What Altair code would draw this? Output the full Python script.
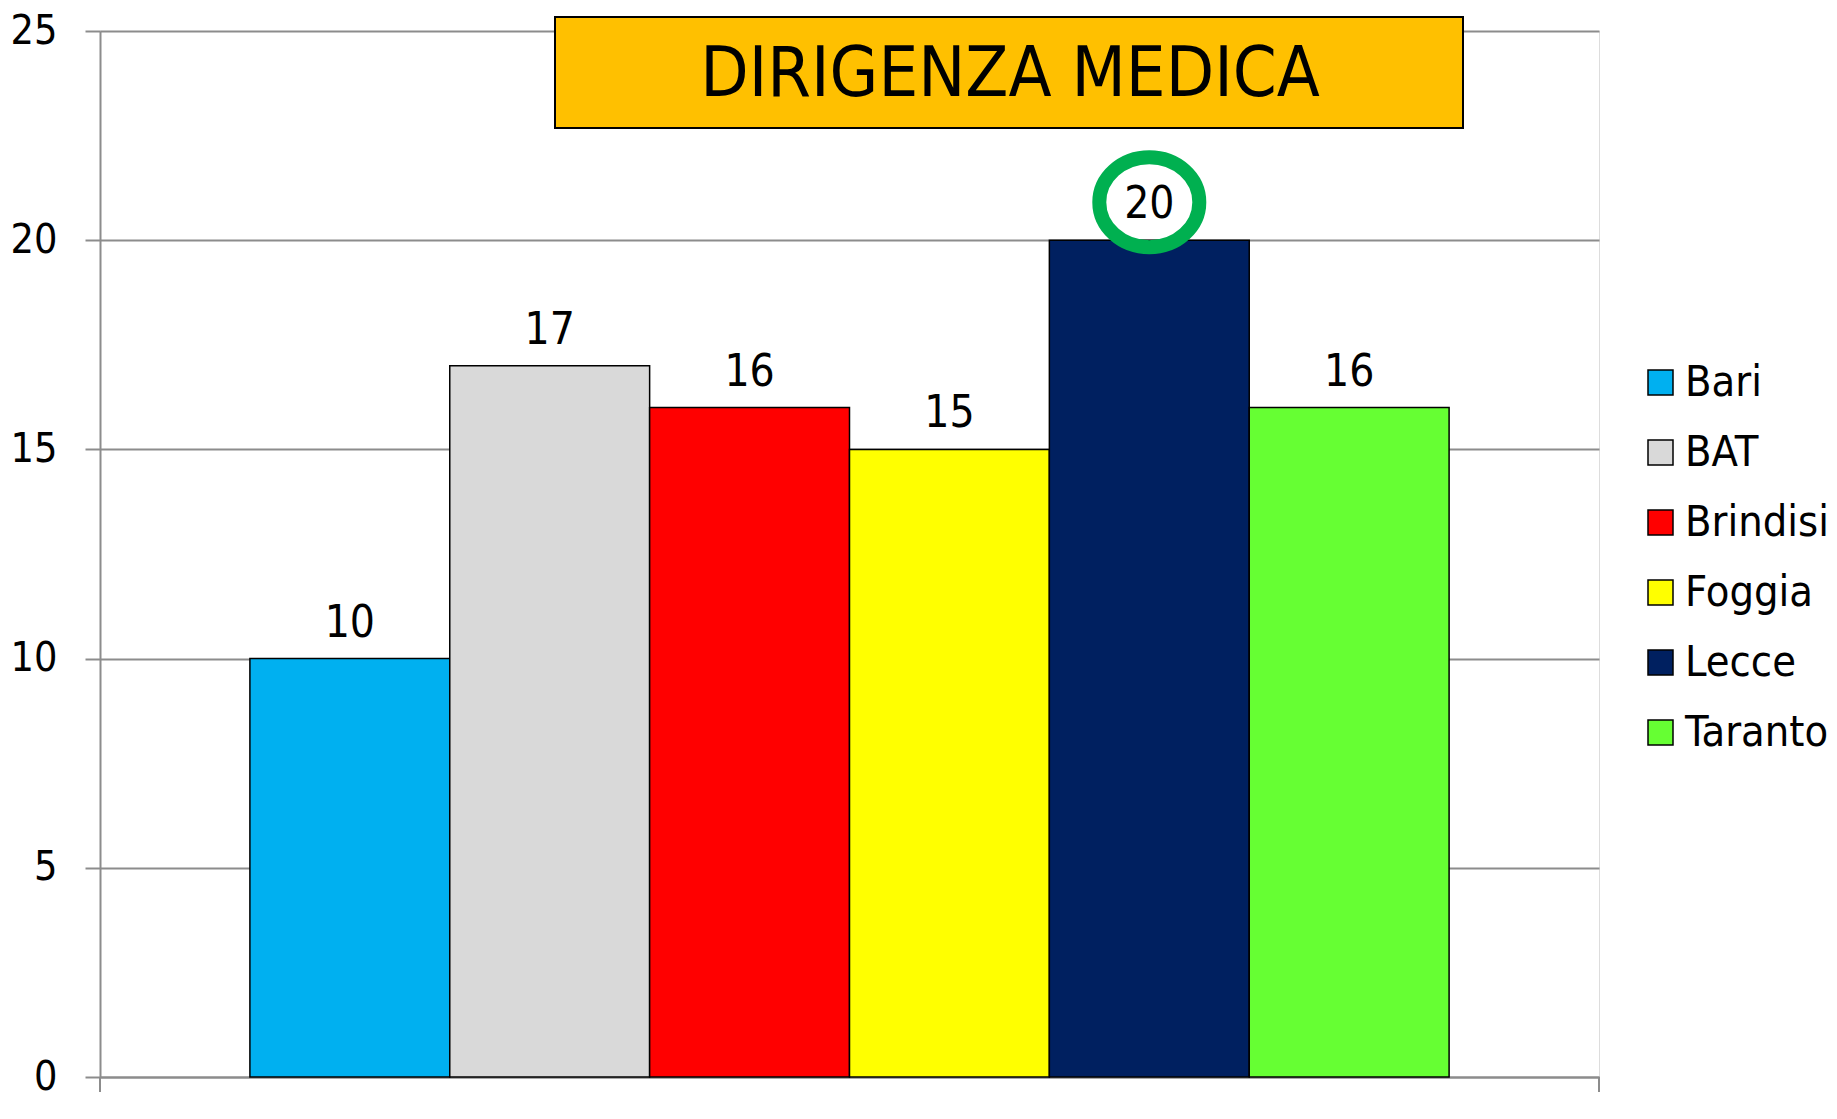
import altair as alt
import pandas as pd

regions = ["Bari", "BAT", "Brindisi", "Foggia", "Lecce", "Taranto"]
values = [10, 17, 16, 15, 20, 16]
colors = ["#00B0F0", "#D9D9D9", "#FF0000", "#FFFF00", "#002060", "#66FF33"]
highlighted = ["Lecce"]
title_text = "DIRIGENZA MEDICA"
y_ticks = [0, 5, 10, 15, 20, 25]

FONT = "DejaVu Sans Condensed, Liberation Sans Narrow, sans-serif"
GRAY = "#8c8c8c"
W, H = 1499, 1046

df = pd.DataFrame({"region": regions, "value": values})
df["hl"] = df["region"].isin(highlighted)

x_enc = alt.X(
    "region:N",
    sort=regions,
    scale=alt.Scale(paddingInner=0, paddingOuter=0.75),
    axis=alt.Axis(labels=False, ticks=False, title=None, domain=True,
                  domainColor=GRAY, domainWidth=2, grid=False),
)
y_enc = alt.Y(
    "value:Q",
    scale=alt.Scale(domain=[0, 25], nice=False),
    axis=alt.Axis(values=y_ticks, title=None, labelFont=FONT, labelFontSize=41,
                  labelColor="black", labelPadding=28, tickSize=15, tickColor=GRAY,
                  tickWidth=2, domainColor=GRAY, domainWidth=2, gridColor=GRAY,
                  gridWidth=2, grid=True),
)

base = alt.Chart(df)

bars = base.mark_bar(stroke="black", strokeWidth=1.5).encode(
    x=x_enc,
    y=y_enc,
    color=alt.Color(
        "region:N",
        scale=alt.Scale(domain=regions, range=colors),
        legend=alt.Legend(
            title=None, orient="none", legendX=1539, legendY=330,
            symbolType="square", symbolSize=625, symbolStrokeColor="black",
            symbolStrokeWidth=1.5, symbolOpacity=1,
            labelFont=FONT, labelFontSize=43, labelColor="black",
            labelOffset=3, labelLimit=400, rowPadding=26, padding=0,
        ),
    ),
)

labels = base.mark_text(font=FONT, fontSize=44, dy=-22, baseline="alphabetic",
                        align="center", color="black").encode(
    x=alt.X("region:N", sort=regions),
    y=alt.Y("value:Q"),
    text=alt.Text("value:Q"),
)

ellipse = "M -1 0 A 1 0.9 0 1 1 1 0 A 1 0.9 0 1 1 -1 0 Z"
ring = base.transform_filter("datum.hl").mark_point(
    shape=ellipse, size=10000, filled=False, color="#00B050",
    strokeWidth=14, opacity=1, yOffset=-38,
).encode(
    x=alt.X("region:N", sort=regions),
    y=alt.Y("value:Q"),
)

title_df = pd.DataFrame({"t": [title_text]})
box = alt.Chart(title_df).mark_rect(fill="#FFC000", stroke="black", strokeWidth=2).encode(
    x=alt.value(455), x2=alt.value(1363), y=alt.value(-14), y2=alt.value(97)
)
title = alt.Chart(title_df).mark_text(font=FONT, fontSize=70, align="center",
                                      baseline="middle", color="black").encode(
    x=alt.value(910), y=alt.value(44), text="t:N"
)

edge_l = alt.Chart(title_df).mark_rule(color=GRAY, strokeWidth=2).encode(
    x=alt.value(0), y=alt.value(H), y2=alt.value(H + 15)
)
edge_r = alt.Chart(title_df).mark_rule(color=GRAY, strokeWidth=2).encode(
    x=alt.value(W), y=alt.value(H), y2=alt.value(H + 15)
)

chart = alt.layer(bars, labels, ring, box, title, edge_l, edge_r).properties(
    width=W, height=H,
    autosize=alt.AutoSizeParams(type="none"),
    padding={"left": 92, "top": 23, "right": 230, "bottom": 31},
).configure_view(strokeWidth=0).configure(background="white")

chart.save("out.html", embed_options={"renderer": "svg", "actions": False})
